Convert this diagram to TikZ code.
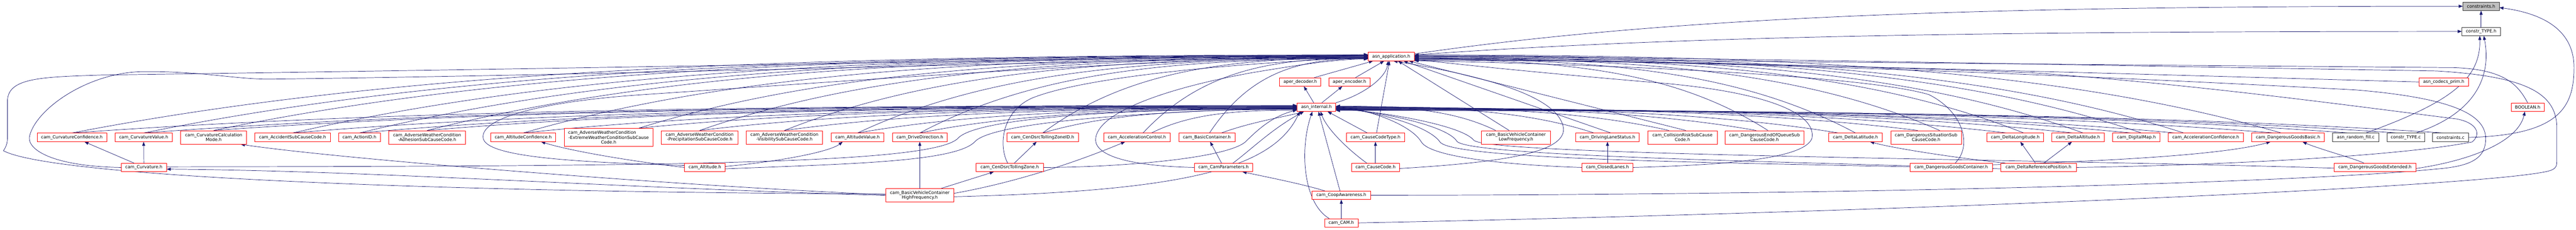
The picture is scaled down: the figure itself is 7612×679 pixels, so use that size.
\documentclass[tikz,border=0pt]{standalone}
\usepackage{fontspec}
\setmainfont{DejaVu Sans}
\usetikzlibrary{arrows.meta,calc}
\pgfdeclarelayer{edgelayer}
\pgfsetlayers{edgelayer,main}
\definecolor{edgec}{HTML}{191970}
\newcommand{\dlink}[3][]{\draw[conn,#1] let \p1=(#2), \p2=(#3) in (\p1) .. controls ($(\p1)+(0.25*\x2-0.25*\x1,0.8*\y2-0.8*\y1)$) and ($(\p2)+(0.45*\x1-0.45*\x2,0pt)$) .. (\p2);}
\tikzset{
 nodebase/.style={inner sep=0pt, minimum height=25pt, align=center, line width=1.1pt, fill=white, font=\fontsize{12.8}{14}\selectfont},
 rbox/.style={nodebase, draw=red},
 kbox/.style={nodebase, draw=black!80},
 gbox/.style={nodebase, draw=black!80, fill=black!25},
 two/.style={minimum height=40pt},
 three/.style={minimum height=54pt},
 conn/.style={draw=edgec, line width=1.1pt, -{Triangle[length=12pt,width=9pt]}},
}
\begin{document}
\begin{tikzpicture}[x=1pt,y=-1pt]
\useasboundingbox (0,0) rectangle (7612,679);
% top
\node[gbox, minimum width=107pt] (A) at (7331.5,18.5) {constraints.h};
\node[kbox, minimum width=113pt] (B) at (7331.5,93) {constr\_TYPE.h};
\node[rbox, minimum width=136pt] (C) at (4111,167.5) {asn\_application.h};
\node[rbox, minimum width=122pt] (D1) at (3842,242.5) {aper\_decoder.h};
\node[rbox, minimum width=121pt] (D2) at (3987.5,242.5) {aper\_encoder.h};
\node[rbox, minimum width=146pt] (D3) at (7221,242.5) {asn\_codecs\_prim.h};
\node[rbox, minimum width=114pt] (E1) at (3890,317) {asn\_internal.h};
\node[rbox, minimum width=98pt] (E2) at (7469,317) {BOOLEAN.h};
% row F
\node[rbox, minimum width=205pt] (F1) at (212.5,406.5) {cam\_CurvatureConfidence.h};
\node[rbox, minimum width=169pt] (F2) at (424.5,406.5) {cam\_CurvatureValue.h};
\node[rbox, two, minimum width=195pt] (F3) at (631.5,406.5) {cam\_CurvatureCalculation\\Mode.h};
\node[rbox, minimum width=223pt] (F4) at (864.5,406.5) {cam\_AccidentSubCauseCode.h};
\node[rbox, minimum width=124pt] (F5) at (1062,406.5) {cam\_ActionID.h};
\node[rbox, two, minimum width=227pt] (F6) at (1262,406.5) {cam\_AdverseWeatherCondition\\-AdhesionSubCauseCode.h};
\node[rbox, minimum width=192pt] (F7) at (1546,406.5) {cam\_AltitudeConfidence.h};
\node[rbox, three, minimum width=263pt] (F8) at (1798.5,406.5) {cam\_AdverseWeatherCondition\hspace*{38pt}\\-ExtremeWeatherConditionSubCause\\Code.h};
\node[rbox, two, minimum width=227pt] (F9) at (2067.5,406.5) {cam\_AdverseWeatherCondition\\-PrecipitationSubCauseCode.h};
\node[rbox, two, minimum width=226pt] (F10) at (2318,406.5) {cam\_AdverseWeatherCondition\\-VisibilitySubCauseCode.h};
\node[rbox, minimum width=156pt] (F11) at (2534,406.5) {cam\_AltitudeValue.h};
\node[rbox, minimum width=162pt] (F12) at (2718,406.5) {cam\_DriveDirection.h};
\node[rbox, minimum width=212pt] (F13) at (3081,406.5) {cam\_CenDsrcTollingZoneID.h};
\node[rbox, minimum width=197pt] (F14) at (3359.5,406.5) {cam\_AccelerationControl.h};
\node[rbox, minimum width=166pt] (F15) at (3566,406.5) {cam\_BasicContainer.h};
\node[rbox, minimum width=171pt] (F16) at (4064.5,406.5) {cam\_CauseCodeType.h};
\node[rbox, two, minimum width=203pt] (F17) at (4479.5,406.5) {cam\_BasicVehicleContainer\\LowFrequency.h};
\node[rbox, minimum width=188pt] (F18) at (4750,406.5) {cam\_DrivingLaneStatus.h};
\node[rbox, two, minimum width=205pt] (F19) at (4971.5,406.5) {cam\_CollisionRiskSubCause\\Code.h};
\node[rbox, two, minimum width=232pt] (F20) at (5214,406.5) {cam\_DangerousEndOfQueueSub\\CauseCode.h};
\node[rbox, minimum width=158pt] (F21) at (5483,406.5) {cam\_DeltaLatitude.h};
\node[rbox, two, minimum width=209pt] (F22) at (5691.5,406.5) {cam\_DangerousSituationSub\\CauseCode.h};
\node[rbox, minimum width=168pt] (F23) at (5955,406.5) {cam\_DeltaLongitude.h};
\node[rbox, minimum width=155pt] (F24) at (6140.5,406.5) {cam\_DeltaAltitude.h};
\node[rbox, minimum width=140pt] (F25) at (6313,406.5) {cam\_DigitalMap.h};
\node[rbox, minimum width=222pt] (F26) at (6518,406.5) {cam\_AccelerationConfidence.h};
\node[rbox, minimum width=214pt] (F27) at (6761,406.5) {cam\_DangerousGoodsBasic.h};
\node[kbox, minimum width=136pt] (F28) at (6961,406.5) {asn\_random\_fill.c};
\node[kbox, minimum width=112pt] (F29) at (7109,406.5) {constr\_TYPE.c};
\node[kbox, minimum width=106pt] (F30) at (7241,406.5) {constraints.c};
% row G
\node[rbox, minimum width=134pt] (G1) at (425,495.5) {cam\_Curvature.h};
\node[rbox, minimum width=120pt] (G2) at (2083,495.5) {cam\_Altitude.h};
\node[rbox, minimum width=199pt] (G3) at (2983.5,495.5) {cam\_CenDsrcTollingZone.h};
\node[rbox, minimum width=173pt] (G4) at (3615.5,495.5) {cam\_CamParameters.h};
\node[rbox, minimum width=143pt] (G5) at (4064.5,495.5) {cam\_CauseCode.h};
\node[rbox, minimum width=150pt] (G6) at (4750,495.5) {cam\_ClosedLanes.h};
\node[rbox, minimum width=243pt] (G7) at (5765.5,495.5) {cam\_DangerousGoodsContainer.h};
\node[rbox, minimum width=223pt] (G8) at (6023.5,495.5) {cam\_DeltaReferencePosition.h};
\node[rbox, minimum width=242pt] (G9) at (7018,495.5) {cam\_DangerousGoodsExtended.h};
% rows H, I
\node[rbox, two, minimum width=202pt] (H1) at (2718,578) {cam\_BasicVehicleContainer\\HighFrequency.h};
\node[rbox, minimum width=173pt] (H2) at (3963.5,577.7) {cam\_CoopAwareness.h};
\node[rbox, minimum width=99pt] (I1) at (3963.5,659.5) {cam\_CAM.h};

\begin{pgfonlayer}{edgelayer}
% top structure
\draw[conn] (B) -- (A);
\draw[conn] (F30.east) .. controls (7560,400) and (7606,320) .. (7606,200) .. controls (7606,80) and (7500,38) .. ([yshift=-4]A.east);
\dlink{[yshift=5]C.east}{B.west}
\dlink{[yshift=8]C.east}{A.west}
\draw[conn] ([xshift=30]F29.north) .. controls (7300,340) and (7365,240) .. ([xshift=8]B.south);
\draw[conn] ([xshift=30]F28.north) .. controls (7250,300) and (7330,230) .. ([xshift=-4]B.south);
\dlink{[xshift=-20]F28.north}{[yshift=-8]E1.east}
\dlink{[xshift=-24]F29.north}{[yshift=-9]E1.east}
\dlink{[xshift=-20]F30.north}{[yshift=-10]E1.east}
% D / E
\draw[conn] ([xshift=42]D1.north) -- ([xshift=-54]C.south);
\draw[conn] ([xshift=18]D2.north) -- ([xshift=-21]C.south);
\draw[conn] ([xshift=-8]E1.north) -- ([xshift=11]D1.south);
\draw[conn] ([xshift=16]E1.north) -- ([xshift=-21]D2.south);
\draw[conn] (E1.north east) .. controls (4030,280) and (4095,230) .. ([xshift=-9]C.south);
\draw[conn] (D3.west) .. controls (6400,222) and (5200,185) .. ([yshift=-6]C.east);
\draw[conn] (E2.north) .. controls (7440,250) and (7400,205) .. (7250,200) .. controls (6000,190) and (4800,178) .. ([yshift=-3]C.east);
% F16
\draw[conn] ([xshift=3]F16.north) -- ([xshift=-5]C.south);
\draw[conn] ([xshift=-24]F16.north) -- ([xshift=33]E1.south);
% left F nodes
\dlink{F1.north}{[yshift=5]C.west}
\dlink{F1.north}{[yshift=5]E1.west}
\dlink{F2.north}{[yshift=4]C.west}
\dlink{F2.north}{[yshift=4]E1.west}
\dlink{F3.north}{[yshift=3]C.west}
\dlink{F3.north}{[yshift=3]E1.west}
\dlink{F4.north}{[yshift=2]C.west}
\dlink{F4.north}{[yshift=2]E1.west}
\dlink{F5.north}{[yshift=1]C.west}
\dlink{F5.north}{[yshift=1]E1.west}
\dlink{F6.north}{C.west}
\dlink{F6.north}{E1.west}
\dlink{F7.north}{[yshift=-1]C.west}
\dlink{F7.north}{[yshift=-1]E1.west}
\dlink{[xshift=90]F8.north}{[yshift=-2]C.west}
\dlink{[xshift=90]F8.north}{[yshift=-2]E1.west}
\dlink{F9.north}{[yshift=-3]C.west}
\dlink{F9.north}{[yshift=-3]E1.west}
\dlink{F10.north}{[yshift=-4]C.west}
\dlink{F10.north}{[yshift=-4]E1.west}
\dlink{F11.north}{[yshift=-5]C.west}
\dlink{F11.north}{[yshift=-5]E1.west}
\dlink{F12.north}{[yshift=-6]C.west}
\dlink{F12.north}{[yshift=-6]E1.west}
\dlink{F13.north}{[yshift=-3]C.west}
\dlink{F13.north}{[yshift=-7]E1.west}
\dlink{[xshift=18]F14.north}{[yshift=-4]C.west}
\dlink{[xshift=43]F14.north}{[yshift=-9]E1.west}
\dlink{[xshift=8]F15.north}{[yshift=-6]C.west}
\draw[conn] ([xshift=43]F15.north) .. controls (3700,360) and (3800,345) .. ([xshift=20]E1.south west);
% right F nodes
\draw[conn] ([xshift=-20]F17.north) -- ([xshift=-48]C.south east);
\dlink{[xshift=-60]F17.north}{[yshift=3]E1.east}
\draw[conn] ([xshift=10]F18.north) -- ([xshift=-32]C.south east);
\dlink{[xshift=-40]F18.north}{[yshift=2]E1.east}
\draw[conn] ([xshift=10]F19.north) -- ([xshift=-16]C.south east);
\dlink{[xshift=-40]F19.north}{[yshift=1]E1.east}
\dlink{[xshift=10]F20.north}{[yshift=-9]C.east}
\dlink{[xshift=-25]F20.north}{E1.east}
\dlink{F21.north}{[yshift=-7]C.east}
\dlink{[xshift=-50]F21.north}{[yshift=-1]E1.east}
\dlink{[xshift=40]F22.north}{[yshift=-5]C.east}
\dlink{[xshift=-25]F22.north}{[yshift=-2]E1.east}
\dlink{[xshift=25]F23.north}{[yshift=-3]C.east}
\dlink{[xshift=-25]F23.north}{[yshift=-3]E1.east}
\dlink{[xshift=15]F24.north}{[yshift=-1]C.east}
\dlink{[xshift=-15]F24.north}{[yshift=-4]E1.east}
\dlink{[xshift=15]F25.north}{[yshift=1]C.east}
\dlink{[xshift=-15]F25.north}{[yshift=-5]E1.east}
\dlink{[xshift=-65]F26.north}{[yshift=3]C.east}
\dlink{[xshift=-90]F26.north}{[yshift=-6]E1.east}
\dlink{[xshift=-20]F27.north}{[yshift=5]C.east}
\dlink{[xshift=-40]F27.north}{[yshift=-7]E1.east}
% G1 Curvature
\draw[conn] ([xshift=-29]G1.north) -- ([xshift=37]F1.south);
\draw[conn] (G1.north) -- (F2.south);
\draw[conn] (G1.west) .. controls (150,492) and (75,440) .. (88,400) .. controls (110,320) and (260,215) .. (420,212) .. controls (600,210) and (700,236) .. (805,234) .. controls (1800,222) and (3300,178) .. ([yshift=2]C.west);
\draw[conn] ([yshift=2]G1.east) .. controls (2000,492) and (2750,485) .. (2830,410) .. controls (2880,350) and (3300,322) .. ([yshift=-4]E1.west);
% G2 Altitude
\draw[conn] (G2.west) .. controls (1850,475) and (1680,445) .. ([xshift=53]F7.south);
\draw[conn] ([yshift=3]G2.east) .. controls (2300,478) and (2450,450) .. ([xshift=-44]F11.south);
\draw[conn] ([yshift=6]G2.west) .. controls (1700,480) and (1440,465) .. (1428,410) .. controls (1415,350) and (1600,300) .. (1900,280) .. controls (2500,240) and (3300,180) .. ([yshift=4]C.west);
\draw[conn] ([yshift=-4]G2.east) .. controls (2500,485) and (2820,480) .. (2880,420) .. controls (2930,360) and (3400,330) .. ([yshift=-2]E1.west);
% G3 CenDsrcTollingZone
\draw[conn] ([xshift=14]G3.north) -- ([xshift=-18]F13.south);
\draw[conn] ([xshift=-6]G3.north) .. controls (2950,430) and (2960,330) .. (3050,290) .. controls (3200,230) and (3600,190) .. ([yshift=-2]C.west);
\draw[conn] (G3.east) .. controls (3300,495) and (3620,470) .. (3680,420) .. controls (3720,380) and (3760,345) .. ([yshift=-8]E1.west);
% H1 HighFrequency
\draw[conn] (H1.north) -- (F12.south);
\draw[conn] ([xshift=63]H1.north) -- ([xshift=-47]G3.south);
\draw[conn] ([yshift=4]H1.west) .. controls (1200,568) and (150,520) .. (10,446) .. controls (25,425) and (22,410) .. (22,380) -- (22,300) .. controls (22,230) and (120,228) .. (300,222) .. controls (1500,206) and (3000,178) .. ([yshift=6]C.west);
\draw[conn] (H1.west) .. controls (1800,555) and (1100,505) .. ([yshift=-5]G1.east);
\draw[conn] ([yshift=2]H1.west) .. controls (2000,550) and (1000,470) .. ([xshift=80]F3.south);
\draw[conn] ([yshift=6]H1.east) .. controls (3000,540) and (3180,480) .. ([xshift=-35]F14.south);
\draw[conn] ([yshift=-4]H1.east) .. controls (3500,565) and (3760,500) .. ([xshift=-49]E1.south);
% G4 CamParameters
\draw[conn] ([xshift=-6]G4.north) -- ([xshift=10]F15.south);
\draw[conn] (G4.west) .. controls (3300,490) and (3230,450) .. (3238,407) .. controls (3250,330) and (3450,260) .. (3700,215) .. controls (3850,190) and (3950,175) .. ([yshift=-7]C.west);
\draw[conn] ([xshift=28]G4.north) .. controls (3700,440) and (3760,380) .. ([xshift=-37]E1.south);
% H2 CoopAwareness
\draw[conn] ([xshift=-49]H2.north) .. controls (3850,545) and (3750,525) .. ([xshift=56]G4.south);
\draw[conn] ([xshift=-4]H2.north) -- ([xshift=6]E1.south);
\draw[conn] (H2.east) .. controls (5500,577) and (6800,540) .. (7200,500) .. controls (7300,492) and (7345,470) .. (7345,410) .. controls (7345,340) and (7250,290) .. (6960,266) .. controls (6000,215) and (5000,178) .. ([yshift=-10]C.east);
% I1 CAM
\draw[conn] (I1.north) -- (H2.south);
\draw[conn] ([xshift=-36]I1.north) .. controls (3850,600) and (3840,440) .. ([xshift=-12]E1.south);
\draw[conn] (I1.east) .. controls (5500,630) and (7200,560) .. (7500,512) .. controls (7545,505) and (7555,500) .. (7555,480) -- (7555,370) .. controls (7550,270) and (7450,225) .. (7200,210) .. controls (6000,190) and (5000,170) .. ([yshift=2]C.east);
% G5 CauseCode
\draw[conn] (G5.north) -- (F16.south);
\draw[conn] ([xshift=-26]G5.north) .. controls (3980,440) and (3920,380) .. ([xshift=12]E1.south);
\draw[conn] ([yshift=-3]G5.east) .. controls (4450,480) and (4625,450) .. (4620,380) .. controls (4610,300) and (4450,235) .. ([xshift=-62]C.south east);
% G6 ClosedLanes
\draw[conn] (G6.north) -- (F18.south);
\draw[conn] (G6.west) .. controls (4500,490) and (4230,470) .. (4200,420) .. controls (4170,370) and (4050,325) .. ([yshift=2]E1.east);
\draw[conn] (G6.east) .. controls (5100,488) and (5330,470) .. (5354,410) .. controls (5370,330) and (5200,270) .. (4900,245) .. controls (4600,220) and (4350,195) .. ([yshift=-8]C.east);
% G7 DangerousGoodsContainer
\draw[conn] ([yshift=8]G7.east) .. controls (6100,480) and (6550,465) .. ([xshift=-52]F27.south);
\draw[conn] ([xshift=12]G7.north) .. controls (5830,430) and (5800,330) .. (5700,280) .. controls (5500,220) and (4700,190) .. ([yshift=-12]C.east);
\draw[conn] ([yshift=2]G7.west) .. controls (5000,480) and (4290,470) .. (4255,420) .. controls (4220,370) and (4060,330) .. ([yshift=-1]E1.east);
% G8 DeltaReferencePosition
\draw[conn] ([xshift=-9]G8.north) -- ([xshift=15]F23.south);
\draw[conn] ([xshift=16]G8.north) -- ([xshift=-18]F24.south);
\draw[conn] ([xshift=-98]G8.north) .. controls (5800,470) and (5600,440) .. ([xshift=43]F21.south);
\draw[conn] ([yshift=-4]G8.west) .. controls (5400,480) and (4340,465) .. (4305,418) .. controls (4275,370) and (4070,330) .. ([yshift=-3]E1.east);
\draw[conn] (G8.east) .. controls (6600,488) and (7100,460) .. (7305,420) .. controls (7330,400) and (7325,365) .. (7260,352) .. controls (7000,320) and (6500,250) .. (6000,215) .. controls (5200,185) and (4500,175) .. ([yshift=-11]C.east);
% G9 DangerousGoodsExtended
\draw[conn] ([xshift=-33]G9.north) .. controls (6960,470) and (6850,440) .. ([xshift=43]F27.south);
\draw[conn] ([yshift=-3]G9.east) .. controls (7300,475) and (7440,420) .. ([xshift=-8]E2.south);
\draw[conn] ([yshift=-2]G9.west) .. controls (6000,470) and (4400,460) .. (4355,415) .. controls (4320,370) and (4080,330) .. ([yshift=-5]E1.east);
\end{pgfonlayer}
\end{tikzpicture}
\end{document}
